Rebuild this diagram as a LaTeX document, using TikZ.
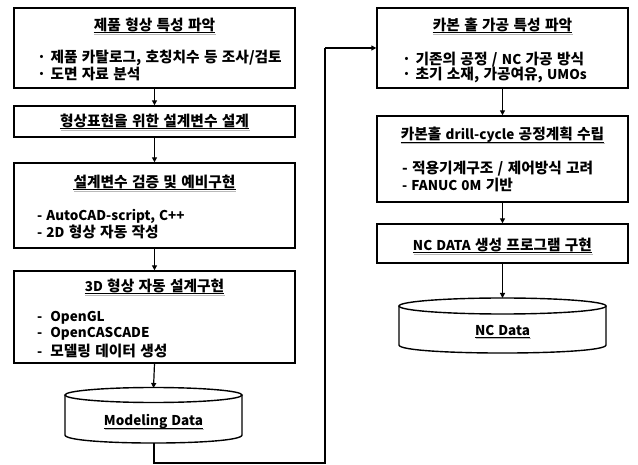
\documentclass[tikz,border=0pt]{standalone}
\usepackage{fontspec}
\setmainfont{Noto Sans CJK KR}[WordSpace=1.3]
\usetikzlibrary{arrows.meta}
\newcommand{\lt}[1]{{\fontsize{13.5}{16}\selectfont #1}}
\begin{document}
\begin{tikzpicture}[x=1pt,y=-1pt,
  font=\bfseries\fontsize{14.7}{17}\selectfont,
  box/.style={draw, line width=1.4pt, rectangle, inner sep=0pt},
  lbox/.style={box, minimum width=281pt},
  rbox/.style={box, minimum width=251pt},
  ttl/.style={inner sep=0pt, anchor=center},
  blt/.style={inner sep=0pt, anchor=west},
  arr/.style={line width=1.2pt, -{Triangle[length=5pt,width=5pt]}},
  conn/.style={line width=1.2pt},
  cyl/.style={line width=1.4pt}
]
\useasboundingbox (0,0) rectangle (638,465);
\newcommand{\ulfor}[1]{%
  \draw[black, line width=0.7pt] ([yshift=-2.2pt]#1.base west) -- ([yshift=-2.2pt]#1.base east);
  \draw[gray!55, line width=1.2pt] ([yshift=-3.6pt,xshift=0.8pt]#1.base west) -- ([yshift=-3.6pt,xshift=0.8pt]#1.base east);}

% ---------- left column ----------
\node[lbox, minimum height=80pt] (b1) at (154.5,48) {};
\node[ttl] (t1) at (154.5,25) {제품 형상 특성 파악};
\ulfor{t1}
\node[blt] (l11) at (37,58) {· 제품 카탈로그, 호칭치수 등 조사/검토};
\node[blt] (l12) at (37,74) {· 도면 자료 분석};

\node[lbox, minimum height=31pt] (b2) at (154.5,121.5) {};
\node[ttl] (t2) at (154.5,121) {형상표현을 위한 설계변수 설계};
\ulfor{t2}

\node[lbox, minimum height=85pt] (b3) at (154.5,205.5) {};
\node[ttl] (t3) at (154.5,182) {설계변수 검증 및 예비구현};
\ulfor{t3}
\node[blt] (l31) at (37,216) {\lt{- AutoCAD-script, C++}};
\node[blt] (l32) at (37,232) {\lt{- 2D} 형상 자동 작성};

\node[lbox, minimum height=92pt] (b4) at (154.5,317) {};
\node[ttl] (t4) at (154.5,286) {\lt{3D} 형상 자동 설계구현};
\ulfor{t4}
\node[blt] (l41) at (37,318) {\lt{-\hspace{8pt}OpenGL}};
\node[blt] (l42) at (37,334) {\lt{-\hspace{8pt}OpenCASCADE}};
\node[blt] (l43) at (37,351) {\lt{-\hspace{8pt}}모델링 데이터 생성};

% Modeling Data cylinder
\coordinate (mdtop) at (153.5,388);
\draw[cyl] (65,395) -- (65,435) .. controls (65,445.7) and (242,445.7) .. (242,435) -- (242,395);
\draw[cyl, fill=white] (153.5,395) ellipse [x radius=88.5, y radius=7.5];
\node[ttl] (md) at (153.5,422) {\lt{Modeling Data}};
\ulfor{md}
\coordinate (mdbot) at (154,443);

% ---------- right column ----------
\node[rbox, minimum height=80pt] (r1) at (502.5,48) {};
\node[ttl] (s1) at (502.5,25) {카본 홀 가공 특성 파악};
\ulfor{s1}
\node[blt] (m11) at (402,60) {· 기존의 공정 / \lt{NC} 가공 방식};
\node[blt] (m12) at (402,75) {· 초기 소재, 가공여유, \lt{UMOs}};

\node[rbox, minimum height=86pt] (r2) at (502.5,159) {};
\node[ttl] (s2) at (502.5,135) {카본홀 \lt{drill-cycle} 공정계획 수립};
\ulfor{s2}
\node[blt] (m21) at (402,169) {- 적용기계구조 / 제어방식 고려};
\node[blt] (m22) at (402,185) {\lt{- FANUC 0M} 기반};

\node[rbox, minimum height=39pt] (r3) at (502.5,243.5) {};
\node[ttl] (s3) at (502.5,245) {\lt{NC DATA} 생성 프로그램 구현};
\ulfor{s3}

% NC Data cylinder
\coordinate (nctop) at (502.5,298);
\draw[cyl] (399,306) -- (399,345) .. controls (399,355.7) and (606,355.7) .. (606,345) -- (606,306);
\draw[cyl, fill=white] (502.5,306) ellipse [x radius=103.5, y radius=8];
\node[ttl] (nc) at (502.5,330) {\lt{NC Data}};
\ulfor{nc}

% ---------- connectors ----------
\draw[arr] (b1.south) -- (b2.north);
\draw[arr] (b2.south) -- (b3.north);
\draw[arr] (b3.south) -- (b4.north);
\draw[arr] (b4.south) -- (mdtop);
\draw[arr] (r1.south) -- (r2.north);
\draw[arr] (r2.south) -- (r3.north);
\draw[arr] (r3.south) -- (nctop);

\coordinate (c1) at (154,463);
\coordinate (c2) at (325,463);
\coordinate (c3) at (325,48);
\draw[conn] (mdbot) -- (c1) -- (c2) -- (c3);
\draw[arr] (c3) -- (r1.west);
\end{tikzpicture}
\end{document}
